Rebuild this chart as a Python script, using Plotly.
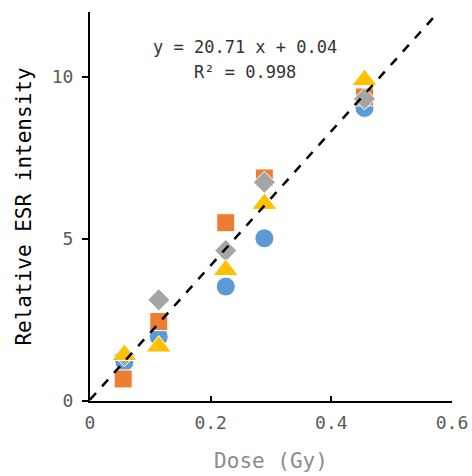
import plotly.graph_objects as go

dose_blue = [0.057, 0.114, 0.225, 0.289, 0.455]
esr_blue = [1.2, 1.98, 3.53, 5.02, 9.04]
dose_orange = [0.055, 0.114, 0.225, 0.289, 0.455]
esr_orange = [0.68, 2.45, 5.5, 6.88, 9.38]
dose_gray = [0.057, 0.114, 0.225, 0.289, 0.455]
esr_gray = [1.4, 3.12, 4.64, 6.75, 9.32]
dose_yellow = [0.057, 0.114, 0.225, 0.289, 0.455]
esr_yellow = [1.42, 1.68, 4.04, 6.08, 9.9]

slope, intercept = 20.71, 0.04
fit_x = [0.0, 0.6]
fit_y = [slope * v + intercept for v in fit_x]

fig = go.Figure()
series = [
    (dose_blue, esr_blue, "circle", "#5B9BD5", 19),
    (dose_orange, esr_orange, "square", "#ED7D31", 18),
    (dose_gray, esr_gray, "diamond", "#A5A5A5", 17),
    (dose_yellow, esr_yellow, "triangle-up", "#FFC000", 22),
]
for xs, ys, sym, col, sz in series:
    fig.add_trace(go.Scatter(x=xs, y=ys, mode="markers",
                             marker=dict(symbol=sym, color=col, size=sz,
                                         line=dict(color="white", width=1)),
                             showlegend=False, cliponaxis=False))
fig.add_trace(go.Scatter(x=fit_x, y=fit_y, mode="lines",
                         line=dict(color="black", width=2.5, dash="dash"),
                         showlegend=False))

eq_font = dict(family="DejaVu Sans Mono", size=17, color="#333333")
fig.add_annotation(x=0.428, xref="paper", y=(401 - 47) / 389.0, yref="paper", yanchor="middle",
                   text="y = 20.71 x + 0.04", showarrow=False, font=eq_font, xanchor="center")
fig.add_annotation(x=0.428, xref="paper", y=(401 - 72) / 389.0, yref="paper", yanchor="middle",
                   text="R² = 0.998", showarrow=False, font=eq_font, xanchor="center")

fig.update_layout(
    width=472, height=476,
    margin=dict(l=90, r=20, t=12, b=75, autoexpand=False),
    plot_bgcolor="white", paper_bgcolor="white",
    xaxis=dict(range=[0, 0.6], tickvals=[0, 0.2, 0.4, 0.6], ticktext=["0", "0.2", "0.4", "0.6"],
               automargin=False, ticklabelstandoff=4,
               showgrid=False, zeroline=False, showline=True, linecolor="black", linewidth=2,
               ticks="inside", ticklen=5, tickwidth=2, tickcolor="black",
               tickfont=dict(family="DejaVu Sans Mono", size=18, color="#595959"),
               title=dict(text="Dose (Gy)", font=dict(family="DejaVu Sans Mono", size=21, color="#8C8C8C"), standoff=22)),
    yaxis=dict(range=[0, 12], tickvals=[0, 5, 10], automargin=False, ticklabelstandoff=5,
               showgrid=False, zeroline=False, showline=True, linecolor="black", linewidth=2,
               ticks="outside", ticklen=6, tickwidth=2, tickcolor="black",
               tickfont=dict(family="DejaVu Sans Mono", size=18, color="#595959"),
               title=dict(text="Relative ESR intensity", font=dict(family="DejaVu Sans Mono", size=21, color="black"), standoff=14)),
)

fig.write_html("out.html", post_script="document.body.style.margin='0';",
               config={"displayModeBar": False})
